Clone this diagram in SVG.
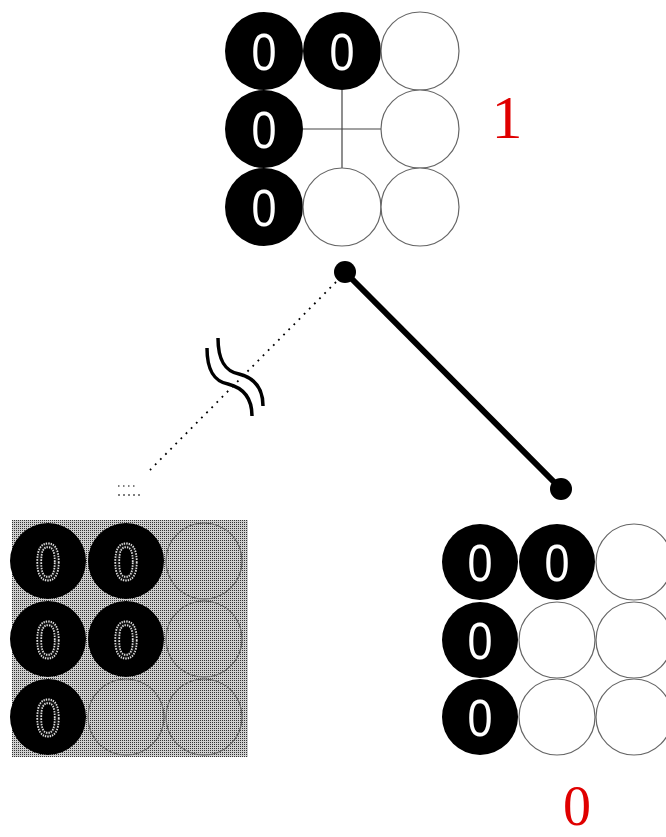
<svg xmlns="http://www.w3.org/2000/svg" width="666" height="837" viewBox="0 0 666 837">
<style>
.blk{fill:#000;}
.wht{fill:#fff;stroke:#666;stroke-width:1.2;}
.gry{fill:none;stroke:#666;stroke-width:1.2;}
.z{font-family:"Liberation Sans",Arial,sans-serif;font-size:52px;fill:#fff;text-anchor:middle;}
.zs{font-family:"Liberation Sans",Arial,sans-serif;font-size:52px;fill:#111;stroke:#ddd;stroke-width:2;stroke-dasharray:1.5 1.2;text-anchor:middle;}
.lbl{font-family:"Liberation Serif","Times New Roman",serif;font-size:62px;fill:#e00000;text-anchor:middle;}
</style>
<defs>
<pattern id="stip" width="2" height="2" patternUnits="userSpaceOnUse">
<rect width="2" height="2" fill="#cfcfcf"/>
<rect width="1" height="1" fill="#333"/>
</pattern>
</defs>

<g id="top-grid">
<line x1="342" y1="90" x2="342" y2="168" stroke="#444" stroke-width="1.2"/>
<line x1="303" y1="129" x2="381" y2="129" stroke="#444" stroke-width="1.2"/>
<circle class="blk" cx="264" cy="51" r="39"/>
<circle class="blk" cx="342" cy="51" r="39"/>
<circle class="wht" cx="420" cy="51" r="39"/>
<circle class="blk" cx="264" cy="129" r="39"/>
<circle class="wht" cx="420" cy="129" r="39"/>
<circle class="blk" cx="264" cy="207" r="39"/>
<circle class="wht" cx="342" cy="207" r="39"/>
<circle class="wht" cx="420" cy="207" r="39"/>
<text class="z" x="264" y="70" textLength="25" lengthAdjust="spacingAndGlyphs">0</text>
<text class="z" x="342" y="70" textLength="25" lengthAdjust="spacingAndGlyphs">0</text>
<text class="z" x="264" y="148" textLength="25" lengthAdjust="spacingAndGlyphs">0</text>
<text class="z" x="264" y="226" textLength="25" lengthAdjust="spacingAndGlyphs">0</text>
</g>

<g id="label-1"><text class="lbl" x="507" y="138">1</text></g>

<g id="connectors">
<line x1="345" y1="272" x2="561" y2="489" stroke="#000" stroke-width="6"/>
<circle cx="345" cy="272" r="11" fill="#000"/>
<circle cx="561" cy="489" r="11" fill="#000"/>
<line x1="336" y1="282" x2="150" y2="470" stroke="#000" stroke-width="1.8" stroke-dasharray="1.8 5.5"/>
<line x1="118" y1="486" x2="136" y2="486" stroke="#000" stroke-width="1.2" stroke-dasharray="1.5 3.5"/>
<line x1="118" y1="495" x2="140" y2="495" stroke="#000" stroke-width="1.2" stroke-dasharray="2 3"/>
<path d="M207,348 C207,369 213,381 228,384 C244,388 252,398 252,416" fill="none" stroke="#000" stroke-width="3.5"/>
<path d="M218,338 C218,359 224,371 239,374 C255,378 263,388 263,406" fill="none" stroke="#000" stroke-width="3.5"/>
</g>

<g id="left-grid">
<rect x="12" y="520" width="236" height="237" fill="url(#stip)"/>
<circle class="gry" cx="204" cy="561" r="38"/>
<circle class="gry" cx="204" cy="639" r="38"/>
<circle class="gry" cx="126" cy="717" r="38"/>
<circle class="gry" cx="204" cy="717" r="38"/>
<circle class="blk" cx="48" cy="561" r="38"/>
<circle class="blk" cx="126" cy="561" r="38"/>
<circle class="blk" cx="48" cy="639" r="38"/>
<circle class="blk" cx="126" cy="639" r="38"/>
<circle class="blk" cx="48" cy="717" r="38"/>
<text class="zs" x="48" y="580" textLength="25" lengthAdjust="spacingAndGlyphs">0</text>
<text class="zs" x="126" y="580" textLength="25" lengthAdjust="spacingAndGlyphs">0</text>
<text class="zs" x="48" y="658" textLength="25" lengthAdjust="spacingAndGlyphs">0</text>
<text class="zs" x="126" y="658" textLength="25" lengthAdjust="spacingAndGlyphs">0</text>
<text class="zs" x="48" y="736" textLength="25" lengthAdjust="spacingAndGlyphs">0</text>
</g>

<g id="right-grid">
<circle class="blk" cx="480" cy="562" r="38"/>
<circle class="blk" cx="557" cy="562" r="38"/>
<circle class="wht" cx="634" cy="562" r="38"/>
<circle class="blk" cx="480" cy="640" r="38"/>
<circle class="wht" cx="557" cy="640" r="38"/>
<circle class="wht" cx="634" cy="640" r="38"/>
<circle class="blk" cx="480" cy="717" r="38"/>
<circle class="wht" cx="557" cy="717" r="38"/>
<circle class="wht" cx="634" cy="717" r="38"/>
<text class="z" x="480" y="581" textLength="25" lengthAdjust="spacingAndGlyphs">0</text>
<text class="z" x="557" y="581" textLength="25" lengthAdjust="spacingAndGlyphs">0</text>
<text class="z" x="480" y="659" textLength="25" lengthAdjust="spacingAndGlyphs">0</text>
<text class="z" x="480" y="736" textLength="25" lengthAdjust="spacingAndGlyphs">0</text>
</g>

<g id="label-0"><text class="lbl" x="577" y="825" style="font-size:56px">0</text></g>
</svg>
